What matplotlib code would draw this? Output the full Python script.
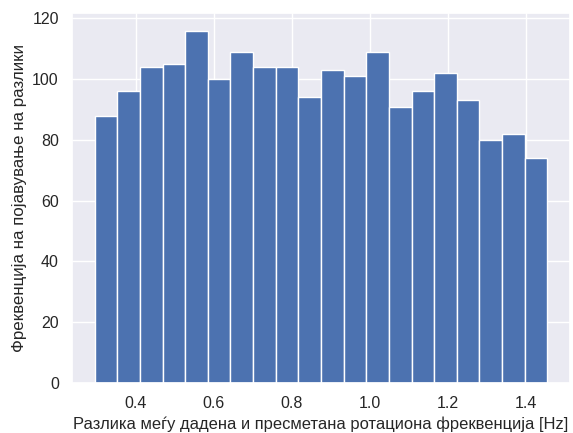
import numpy as np
import matplotlib
matplotlib.use('Agg')
import matplotlib.pyplot as plt
import seaborn as sns

# histogram of frequency differences (20 bins)
counts = [88, 96, 104, 105, 116, 100, 109, 104, 104, 94,
          103, 101, 109, 91, 96, 102, 93, 80, 82, 74]
bin_lo, bin_hi = 0.294, 1.456
edges = np.linspace(bin_lo, bin_hi, len(counts) + 1)
centers = (edges[:-1] + edges[1:]) / 2

sns.set_theme()
plt.rcParams['font.family'] = ['Liberation Sans', 'DejaVu Sans']

fig = plt.figure(figsize=(5.73, 4.33), dpi=100)
ax = fig.add_axes([0.1257, 0.1155, 0.8691, 0.8545])
ax.hist(centers, bins=edges, weights=counts, color='#4c72b0',
        edgecolor='white', linewidth=1.0)
ax.set_xticks([0.4, 0.6, 0.8, 1.0, 1.2, 1.4])
ax.set_yticks([0, 20, 40, 60, 80, 100, 120])
ax.tick_params(labelsize=11.5, colors='#262626')
ax.set_xlabel('Разлика меѓу дадена и пресметана ротациона фреквенција [Hz]',
              fontsize=11.9, color='#262626')
ax.set_ylabel('Фреквенција на појавување на разлики', fontsize=12.2, color='#262626')

fig.savefig('out.png', dpi=100)
